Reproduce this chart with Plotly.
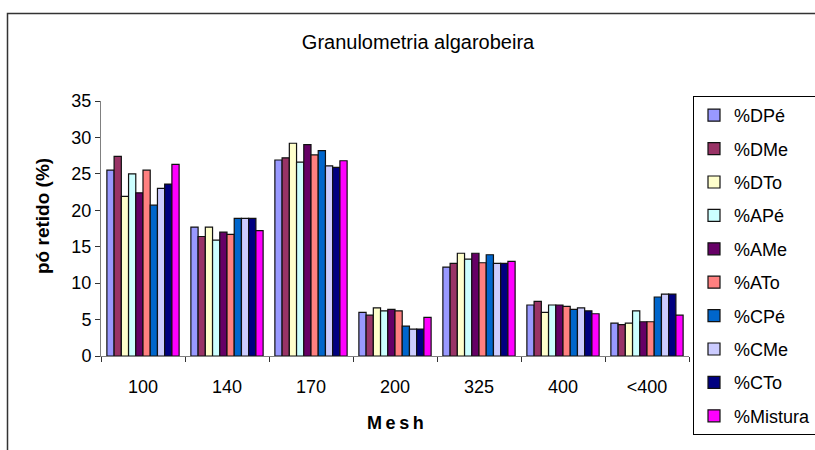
import plotly.graph_objects as go

mesh = ["100", "140", "170", "200", "325", "400", "<400"]

dpe = [25.5, 17.7, 26.9, 6.0, 12.2, 7.0, 4.5]
dme = [27.4, 16.4, 27.2, 5.6, 12.7, 7.5, 4.3]
dto = [21.9, 17.7, 29.2, 6.6, 14.1, 6.0, 4.5]
ape = [25.0, 15.9, 26.6, 6.2, 13.3, 7.0, 6.2]
ame = [22.4, 17.0, 29.0, 6.4, 14.1, 7.0, 4.7]
ato = [25.5, 16.7, 27.6, 6.2, 12.8, 6.8, 4.7]
cpe = [20.7, 18.9, 28.2, 4.1, 13.9, 6.4, 8.1]
cme = [23.0, 18.9, 26.1, 3.7, 12.7, 6.6, 8.5]
cto = [23.6, 18.9, 25.9, 3.7, 12.7, 6.2, 8.5]
mistura = [26.3, 17.2, 26.8, 5.3, 13.0, 5.8, 5.6]

series = [
    ("%DPé", dpe, "#9999FF"),
    ("%DMe", dme, "#993366"),
    ("%DTo", dto, "#FFFFCC"),
    ("%APé", ape, "#CCFFFF"),
    ("%AMe", ame, "#660066"),
    ("%ATo", ato, "#FF8080"),
    ("%CPé", cpe, "#0066CC"),
    ("%CMe", cme, "#CCCCFF"),
    ("%CTo", cto, "#000080"),
    ("%Mistura", mistura, "#FF00FF"),
]

FONT = "Arial, Liberation Sans, sans-serif"

fig = go.Figure()
for name, values, color in series:
    fig.add_trace(
        go.Bar(
            x=mesh,
            y=values,
            name=name,
            legendgroup=name,
            marker=dict(color=color, line=dict(color="#111111", width=1.2)),
        )
    )

# plot area in page pixels: x 101..689, y 101..356 (body margin removed below)
W, H = 815, 450
L, T = 101, 101
pw, ph = 588, 255


def px_x(page_x):
    return (page_x - L) / pw


def px_y(page_y):
    return (T + ph - page_y) / ph


fig.update_layout(
    width=W,
    height=H,
    margin=dict(l=L, r=W - L - pw, t=T, b=H - T - ph, autoexpand=False),
    paper_bgcolor="white",
    plot_bgcolor="white",
    barmode="group",
    bargap=0.14,
    bargroupgap=0,
    font=dict(family=FONT, size=18, color="black"),
    title=dict(
        text="Granulometria algarobeira",
        x=418 / W,
        xanchor="center",
        y=1 - 42 / H,
        yanchor="middle",
        font=dict(family=FONT, size=20, color="black"),
    ),
    legend=dict(
        x=px_x(693),
        xanchor="left",
        y=px_y(96),
        yanchor="top",
        bordercolor="black",
        borderwidth=1,
        bgcolor="white",
        font=dict(family=FONT, size=18),
        tracegroupgap=7,
        itemwidth=30,
        maxheight=400,
    ),
    xaxis=dict(
        showline=True,
        linecolor="#808080",
        linewidth=1,
        ticks="outside",
        tickson="boundaries",
        ticklen=5,
        tickcolor="#333333",
        ticklabelstandoff=14,
        showgrid=False,
        tickfont=dict(family=FONT, size=18),
    ),
    yaxis=dict(
        range=[0, 35],
        dtick=5,
        showline=True,
        linecolor="#808080",
        linewidth=1,
        ticks="outside",
        ticklen=5,
        tickcolor="#333333",
        showgrid=False,
        zeroline=False,
        tickfont=dict(family=FONT, size=18),
    ),
    annotations=[
        dict(
            text="<b>M\u2009e\u2009s\u2009h</b>",
            xref="paper",
            yref="paper",
            x=px_x(395),
            y=px_y(423),
            xanchor="center",
            yanchor="middle",
            showarrow=False,
            font=dict(family=FONT, size=18),
        ),
        dict(
            text="<b>pó retido (%)</b>",
            xref="paper",
            yref="paper",
            x=px_x(42),
            y=px_y(216),
            xanchor="center",
            yanchor="middle",
            textangle=-90,
            showarrow=False,
            font=dict(family=FONT, size=19),
        ),
    ],
    shapes=[
        dict(
            type="rect",
            xref="paper",
            yref="paper",
            x0=px_x(7.5),
            x1=px_x(W + 20),
            y0=px_y(H + 20),
            y1=px_y(13.5),
            line=dict(color="#333333", width=1.5),
            fillcolor="rgba(0,0,0,0)",
            layer="above",
        )
    ],
)

fig.write_html(
    "out.html",
    config={"displayModeBar": False},
    post_script="document.body.style.margin = '0';",
)
